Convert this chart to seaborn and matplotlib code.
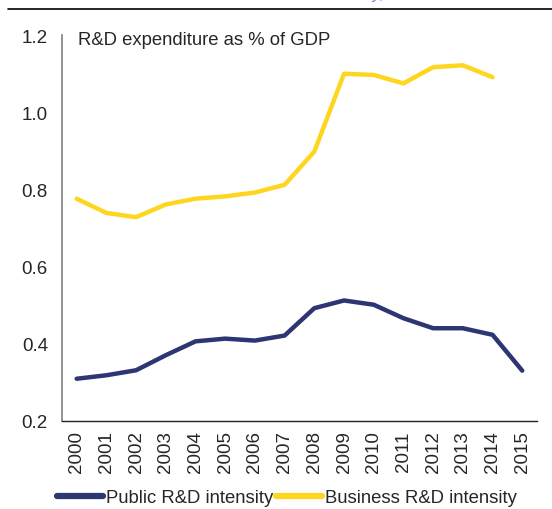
import pandas as pd
import matplotlib.pyplot as plt
import seaborn as sns
from matplotlib.lines import Line2D

# Data
years = [str(y) for y in range(2000, 2016)]
public_rd = [0.309, 0.318, 0.331, 0.370, 0.406, 0.413, 0.408, 0.421,
             0.492, 0.512, 0.501, 0.466, 0.440, 0.440, 0.423, 0.330]
business_rd = [0.776, 0.739, 0.728, 0.761, 0.776, 0.782, 0.792, 0.812,
               0.898, 1.100, 1.097, 1.075, 1.117, 1.122, 1.091, None]
series_names = ["Public R&D intensity", "Business R&D intensity"]
colors = ["#2e3573", "#ffd61f"]

df = pd.DataFrame({"Year": years, series_names[0]: public_rd, series_names[1]: business_rd})
long_df = df.melt(id_vars="Year", var_name="Series", value_name="Value").dropna()

sns.set_style("white")
plt.rcParams['font.family'] = ['Liberation Sans', 'DejaVu Sans']

fig = plt.figure(figsize=(5.52, 5.10), dpi=100)
ax = fig.add_axes([0.112, 0.173, 0.861, 0.756])

sns.lineplot(data=long_df, x="Year", y="Value", hue="Series", hue_order=series_names,
             palette=colors, linewidth=3.2, sort=False, legend=False, ax=ax,
             solid_capstyle="round")

ax.set_xlim(-0.5, 15.5)
ax.set_ylim(0.2, 1.2)
ax.set_yticks([0.2, 0.4, 0.6, 0.8, 1.0, 1.2])
ax.set_yticklabels(["0.2", "0.4", "0.6", "0.8", "1.0", "1.2"], fontsize=13.5)
ax.set_xticks(range(len(years)))
ax.set_xticklabels(years, rotation=90, fontsize=13.5)
ax.tick_params(axis="y", length=0, pad=10)
ax.tick_params(axis="x", length=0, pad=7)
ax.set_xlabel("")
ax.set_ylabel("")

for side in ["top", "right"]:
    ax.spines[side].set_visible(False)
ax.spines["left"].set_color("#808080")
ax.spines["left"].set_linewidth(1.2)
ax.spines["bottom"].set_color("#222222")
ax.spines["bottom"].set_linewidth(1.0)

ax.text(0.035, 0.99, "R&D expenditure as % of GDP", transform=ax.transAxes,
        fontsize=13.3, va="center", ha="left")

# Heading above the chart, mostly cut off by the top edge as in the source
fig.text(0.23, 1.011, "Public and business R&D intensity, 2000-2015", fontsize=12,
         color="#4a4fc0", style="italic", va="center", ha="left", alpha=0.8)
fig.add_artist(Line2D([0.014, 1.0], [0.981, 0.981], transform=fig.transFigure,
                      color="black", linewidth=1.2))

handles = [Line2D([0], [0], color=c, linewidth=4.5, solid_capstyle="round") for c in colors]
fig.legend(handles, series_names, loc="lower center", bbox_to_anchor=(0.52, -0.027),
           ncol=2, frameon=False, fontsize=13.3, handlelength=2.5, handletextpad=0.15,
           columnspacing=0.15)

plt.savefig("out.png", dpi=100)
